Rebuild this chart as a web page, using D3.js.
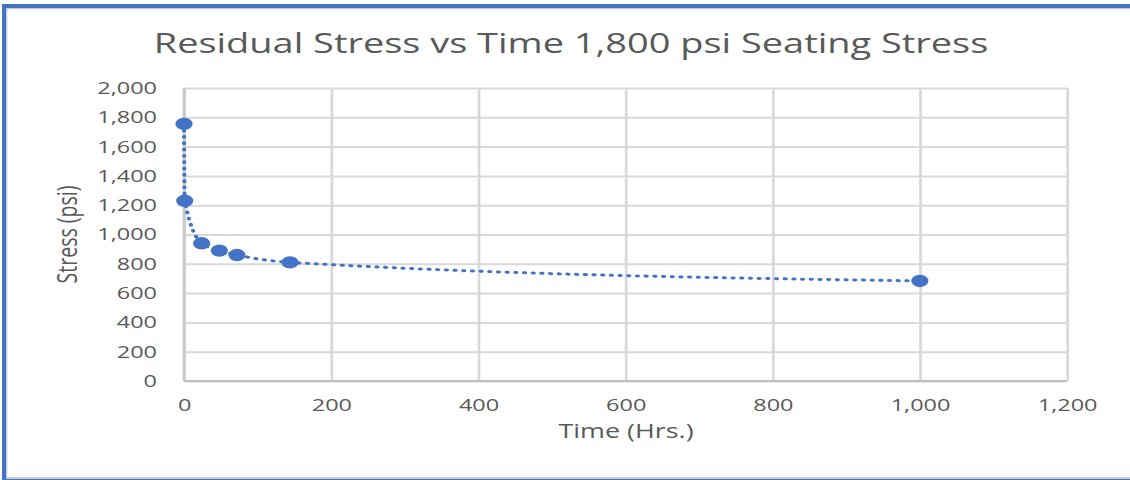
<!DOCTYPE html>
<html>
<head>
<meta charset="utf-8">
<script src="https://cdn.jsdelivr.net/npm/d3@7"></script>
<style>
  body { margin: 0; background: #fff; }
  svg { display: block; }
  text { font-family: "Open Sans", sans-serif; fill: #595959; }
</style>
</head>
<body>
<div id="chart"></div>
<script>
// Data
const hours = [0, 1, 24, 48, 72, 144, 1000];
const stress = [1755, 1230, 940, 890, 860, 810, 683];
const xTicks = [0, 200, 400, 600, 800, 1000, 1200];
const yTicks = [0, 200, 400, 600, 800, 1000, 1200, 1400, 1600, 1800, 2000];

const W = 1130, H = 480;
// the original picture is stretched sideways, so draw in a squeezed viewBox
const SX = 1.38;
const blue = "#4472C4";

const outer = d3.select("#chart").append("svg")
    .attr("width", W)
    .attr("height", H);

// blue selection border + grey chart border
outer.append("rect").attr("x", 2).attr("y", 4).attr("width", W - 2).attr("height", 4).attr("fill", blue);
outer.append("rect").attr("x", 2).attr("y", 4).attr("width", 4).attr("height", H - 4).attr("fill", blue);
outer.append("rect").attr("x", 2).attr("y", 479).attr("width", W - 2).attr("height", 1).attr("fill", blue);
outer.append("rect").attr("x", 6).attr("y", 8).attr("width", W - 6).attr("height", 1.3).attr("fill", "#c8c8c8");
outer.append("rect").attr("x", 6).attr("y", 8).attr("width", 1.3).attr("height", 471).attr("fill", "#c8c8c8");
outer.append("rect").attr("x", 6).attr("y", 477).attr("width", W - 6).attr("height", 2).attr("fill", "#c8c8c8");

const svg = outer.append("svg")
    .attr("width", W)
    .attr("height", H)
    .attr("viewBox", `0 0 ${W / SX} ${H}`)
    .attr("preserveAspectRatio", "none");

const plot = { left: 184 / SX, right: 1067 / SX, top: 88, bottom: 381 };

const x = d3.scaleLinear().domain([0, 1200]).range([plot.left, plot.right]);
const y = d3.scaleLinear().domain([0, 2000]).range([plot.bottom, plot.top]);

// Title
svg.append("text")
    .attr("x", 571 / SX)
    .attr("y", 53)
    .attr("text-anchor", "middle")
    .style("font-size", "27.5px")
    .text("Residual Stress vs Time 1,800 psi Seating Stress");

// Y axis with gridlines
const yAxis = svg.append("g")
    .attr("transform", `translate(${plot.left},0)`)
    .call(d3.axisLeft(y)
        .tickValues(yTicks)
        .tickFormat(d3.format(","))
        .tickSize(-(plot.right - plot.left))
        .tickPadding(27 / SX));
yAxis.select(".domain").remove();
yAxis.selectAll("line").attr("stroke", "#d9d9d9").attr("stroke-width", 2);
yAxis.selectAll("text").style("font-size", "17px").style("fill", "#595959");

// X axis with gridlines
const xAxis = svg.append("g")
    .attr("transform", `translate(0,${plot.bottom})`)
    .call(d3.axisBottom(x)
        .tickValues(xTicks)
        .tickFormat(d3.format(","))
        .tickSize(-(plot.bottom - plot.top))
        .tickPadding(18));
xAxis.select(".domain").remove();
xAxis.selectAll("line").attr("stroke", "#d9d9d9").attr("stroke-width", 2);
xAxis.selectAll("text").style("font-size", "17px").style("fill", "#595959");

// axis lines
svg.append("line")
    .attr("x1", x(0)).attr("x2", x(1200))
    .attr("y1", y(0)).attr("y2", y(0))
    .attr("stroke", "#bfbfbf").attr("stroke-width", 2);
svg.append("line")
    .attr("x1", x(0)).attr("x2", x(0))
    .attr("y1", y(0)).attr("y2", y(2000))
    .attr("stroke", "#c8c8c8").attr("stroke-width", 2);

// Axis titles
svg.append("text")
    .attr("x", 626 / SX)
    .attr("y", 438)
    .attr("text-anchor", "middle")
    .style("font-size", "19.5px")
    .text("Time (Hrs.)");

svg.append("text")
    .attr("transform", `translate(${77 / SX},${(plot.top + plot.bottom) / 2}) rotate(-90)`)
    .attr("text-anchor", "middle")
    .style("font-size", "19.5px")
    .text("Stress (psi)");

// smoothed dotted line
const points = hours.map((h, i) => [h, stress[i]]);
const line = d3.line()
    .x(d => x(d[0]))
    .y(d => y(d[1]))
    .curve(d3.curveMonotoneX);

svg.append("path")
    .datum(points)
    .attr("d", line)
    .attr("fill", "none")
    .attr("stroke", blue)
    .attr("stroke-width", 3)
    .attr("stroke-linecap", "round")
    .attr("stroke-dasharray", "0.8 5.5");

// markers
svg.selectAll(".marker")
    .data(points)
    .enter()
    .append("circle")
    .attr("class", "marker")
    .attr("cx", d => x(d[0]))
    .attr("cy", d => y(d[1]))
    .attr("r", 6.2)
    .attr("fill", blue);
</script>
</body>
</html>
